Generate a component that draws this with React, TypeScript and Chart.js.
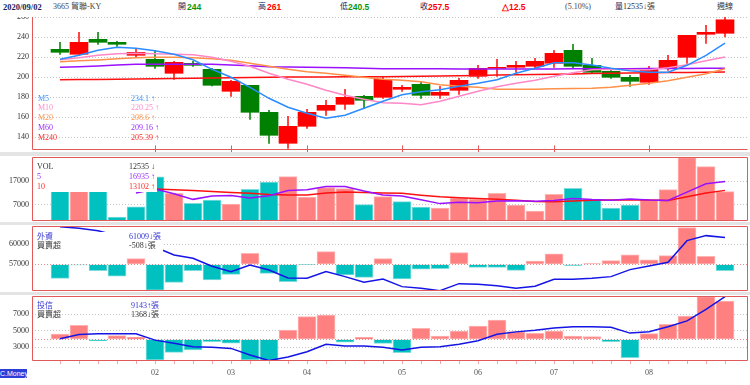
import React, { useEffect, useRef } from 'react';
import { Chart, registerables } from 'chart.js';
Chart.register(...registerables);

// ---------- data (weekly, 2019/12/30 .. 2020/08/31) ----------
const OPEN = [228, 223, 238, 235, 222, 218, 204, 214, 208, 186, 192, 165, 134, 151, 167, 173, 181, 180, 188, 193, 182, 187, 201, 209, 210, 211, 214, 227, 212, 206, 200, 195, 209, 220, 243, 244];
const CLOSE = [225, 235, 235, 233, 225, 211, 215, 212, 192, 196, 165, 142, 151, 165, 172, 180, 177, 198, 190, 182, 185, 197, 209, 210, 212, 216, 224, 211, 205, 200, 196, 209, 217, 242, 245, 257.5];
const HIGH = [235, 245, 245, 236, 228, 227, 216, 216, 209, 197, 192, 167, 161, 168, 177, 188, 182, 200, 192, 196, 191, 199, 212, 218, 216, 219, 227, 233, 219, 207, 202, 211, 222, 242, 252, 261];
const LOW = [223, 222, 233, 231, 220, 209, 198, 211, 191.5, 181, 158, 134, 129, 149, 162, 168, 169, 179, 186, 179, 179, 183, 199, 201, 205, 209, 210, 209, 204, 199, 191, 193, 207, 214, 234, 240.5];
const PREV_CLOSE = 245;

const M5 = [218, 222, 227, 230, 229, 226.6, 223, 217.5, 208, 200, 190, 179, 170, 164, 159, 162, 169, 176, 182.5, 185.5, 187.5, 191, 194, 197.5, 204, 209, 214.5, 214.5, 212.3, 209, 206.5, 205, 205, 212, 222, 234.1];
const M10 = [217.5, 219.5, 222, 223.5, 224, 223.5, 223, 222.5, 220, 216, 211, 204, 198, 193, 187, 182, 178, 174.5, 174, 172.5, 176, 181, 186, 190.5, 194, 197, 201, 204.5, 207.5, 208, 207.5, 207.5, 209.5, 212.5, 216.5, 220.25];
const M20 = [215.5, 216.5, 217.3, 218.5, 219.5, 220, 220, 219.5, 218.5, 217, 214, 211, 208, 205.5, 204, 202, 200, 198, 197, 195.5, 192.5, 191, 190, 188, 188, 188, 188.5, 188.7, 189, 190, 192, 194, 196.5, 200, 203.5, 208.6];
const M60 = [210, 210.5, 211.3, 212.2, 213, 213, 213, 213, 213, 212.3, 211.5, 210.6, 210.3, 210, 209.7, 209.5, 209, 208.6, 208.6, 208.5, 208.5, 208.4, 208.3, 208.3, 208.3, 208.3, 208.4, 208.5, 208.5, 208.6, 208.6, 208.7, 208.8, 208.9, 209, 209.16];
const M240 = [197.5, 197.7, 197.9, 198.1, 198.3, 198.6, 198.8, 199, 199.3, 199.5, 199.8, 200, 200.2, 200.3, 200.4, 200.5, 200.6, 200.6, 200.8, 201, 201.3, 201.6, 201.9, 202.2, 202.5, 202.8, 203.1, 203.4, 203.7, 204, 204.3, 204.5, 204.7, 204.9, 205.1, 205.39];

const VOLUME = [14500, 16000, 15000, 1520, 6000, 19040, 11820, 7470, 8900, 7170, 13560, 16740, 19050, 10220, 14270, 13840, 6880, 10360, 8190, 5870, 5430, 9780, 9350, 11810, 6740, 4130, 11380, 14000, 9350, 5430, 6740, 8910, 13400, 27300, 23400, 12535];
const VOL_UP = [0, 1, 0, 0, 0, 0, 1, 0, 0, 1, 0, 0, 1, 1, 1, 1, 0, 1, 0, 0, 1, 1, 1, 1, 1, 1, 1, 0, 0, 0, 0, 1, 1, 1, 1, 1];
const VOL_MA5 = [null, null, null, null, 12000, 13700, 11600, 9200, 10650, 10850, 9800, 10750, 13000, 13350, 14750, 14800, 12850, 11100, 10700, 9000, 7350, 7900, 7700, 8450, 8600, 8350, 8700, 9600, 9100, 8850, 9400, 8900, 8750, 12350, 15950, 16935];
const VOL_MA10 = [null, null, null, null, 13800, 13700, 13400, 13000, 12600, 12200, 11800, 11300, 11100, 11100, 12000, 12400, 12200, 12000, 11800, 11000, 10300, 9900, 9600, 9200, 8800, 8300, 8200, 8500, 8800, 8900, 8900, 8900, 8700, 10300, 12000, 13102];

const FOREIGN_HOLD = [62640, 62400, 62020, 61300, 60500, 59600, 58400, 57900, 56700, 55900, 56900, 56150, 54950, 54900, 55900, 55150, 54300, 54800, 53650, 53400, 53050, 54100, 54000, 53790, 53400, 53700, 54750, 54750, 54900, 55150, 56200, 56750, 57300, 60550, 61300, 61009];
const FOREIGN_NET = [-1120, -50, -510, -940, 450, -2060, -1440, -510, -1250, -800, 880, -720, -1390, -30, 1010, -850, -1040, 450, -1170, -380, -350, 930, -240, -240, -480, 260, 830, -80, 60, 300, 750, 350, 690, 2930, 640, -508];

const TRUST_HOLD = [4040, 4560, 4630, 4650, 4650, 3870, 3480, 3080, 3000, 2870, 2070, 1400, 1820, 2470, 3360, 3160, 3160, 3000, 2670, 3000, 3070, 3380, 3800, 4580, 4870, 5060, 5330, 5490, 5497, 5430, 4720, 4890, 5490, 6200, 7600, 9143];
const TRUST_NET = [190, 500, -50, 130, 80, -740, -465, -380, -85, -140, -740, -750, 330, 807, 868, -107, 71, -143, -478, 393, 118, 297, 476, 690, 272, 214, 297, 118, 95, -85, -655, 200, 535, 832, 1521, 1368];

const MONTH_LABELS = ['02', '03', '04', '05', '06', '07', '08'];
const MONTH_IDX = [5, 9, 13, 18, 22, 26, 31];

const MAIN_TICKS = [140, 160, 180, 200, 220, 240, 260];
const VOL_TICKS = [7000, 17000];
const FOREIGN_TICKS = [57000, 60000];
const TRUST_TICKS = [3000, 5000, 7000];

// ---------- styling ----------
const W = 750, H = 385;
const X_MIN = -1.474, X_MAX = 36.21;
const SERIF = "'Liberation Serif', 'Noto Sans CJK TC', serif";
const SANS = "'Liberation Sans', Arial, sans-serif";
const FRAME = '#e05a5a';
const RED_BAR = '#ff8080', RED_EDGE = '#ffb4b4';
const CYAN_BAR = '#00c0c0', CYAN_EDGE = '#7fdcdc';
const MA_COLORS = ['#2a8cff', '#ff88c8', '#ff9048', '#9a10ff', '#ff1010'];
const MA_TEXT = ['#3c96ff', '#ff8ccc', '#ff9650', '#9a30ff', '#ff2a2a'];
const HOLD_BLUE = '#1414e6';
const LEG_BLUE = '#3434d0';

const N = CLOSE.length;
const idx = Array.from({ length: N }, (_, i) => i);
const pts = (arr: (number | null)[]) => arr.map((v, i) => ({ x: i, y: v }));
const last = (a: any[]) => a[a.length - 1];
const arrow = (a: any[]) => (a[a.length - 1] >= a[a.length - 2] ? '\u2191' : '\u2193');

const framePlugin: any = {
  id: 'frame',
  afterDatasetsDraw(chart: any, _a: any, opts: any) {
    const { ctx, chartArea: a } = chart;
    ctx.save();
    ctx.strokeStyle = FRAME;
    ctx.lineWidth = 1;
    const L = Math.round(a.left) + 0.5, R = Math.round(a.right) - 0.5;
    const T = Math.round(a.top) + 0.5, B = Math.round(a.bottom) - 0.5;
    ctx.beginPath();
    if (opts.full) {
      ctx.rect(L, T, R - L, B - T);
    } else {
      ctx.moveTo(L, T);
      ctx.lineTo(L, B);
      ctx.lineTo(R, B);
    }
    ctx.stroke();
    if (opts.monthTicks) {
      const xs = chart.scales.x;
      ctx.beginPath();
      MONTH_IDX.forEach((i) => {
        const px = Math.round(xs.getPixelForValue(i)) + 0.5;
        ctx.moveTo(px, B - 4);
        ctx.lineTo(px, B + 2.5);
      });
      ctx.stroke();
    }
    ctx.restore();
  },
};

const yAxis = (min: number, max: number, ticks: number[]) => ({
  position: 'left',
  min,
  max,
  afterFit: (s: any) => { s.width = 32; },
  afterBuildTicks: (s: any) => { s.ticks = ticks.map((v) => ({ value: v })); },
  ticks: { font: { family: SERIF, size: 8 }, color: '#333', padding: 3, callback: (v: any) => String(v) },
  grid: { color: '#c4c4c4', drawTicks: false, lineWidth: 1 },
  border: { display: false, dash: [1, 2] },
});

const y2Axis = (min: number, max: number) => ({
  position: 'right',
  min,
  max,
  afterFit: (s: any) => { s.width = 0; },
  afterBuildTicks: (s: any) => { s.ticks = [{ value: 0 }]; },
  ticks: { display: false },
  grid: { color: '#e88a8a', drawTicks: false, lineWidth: 1 },
  border: { display: false, dash: [1, 2] },
});

const xHidden = { type: 'linear', min: X_MIN, max: X_MAX, offset: false, display: false };

const baseOpts = (pad: any, scales: any, frame: any) => ({
  responsive: false,
  animation: false,
  events: [],
  layout: { padding: pad },
  plugins: { legend: { display: false }, tooltip: { enabled: false }, frame },
  scales,
});

const line = (data: any[], color: string, width = 1.5, yAxisID = 'y') => ({
  type: 'line',
  data: pts(data),
  borderColor: color,
  borderWidth: width,
  pointRadius: 0,
  fill: false,
  tension: 0,
  yAxisID,
});

const netBars = (data: number[]) => ({
  type: 'bar',
  data: pts(data),
  yAxisID: 'y2',
  backgroundColor: data.map((v) => (v >= 0 ? RED_BAR : CYAN_BAR)),
  borderColor: data.map((v) => (v >= 0 ? RED_EDGE : CYAN_EDGE)),
  borderWidth: 1,
  barThickness: 18,
  grouped: false,
});

function mainConfig(): any {
  const up = idx.map((i) => CLOSE[i] >= OPEN[i]);
  return {
    type: 'bar',
    data: {
      datasets: [
        line(M5, MA_COLORS[0]),
        line(M10, MA_COLORS[1]),
        line(M20, MA_COLORS[2]),
        line(M60, MA_COLORS[3]),
        line(M240, MA_COLORS[4]),
        {
          type: 'bar',
          data: idx.map((i) => ({ x: i, y: [Math.min(OPEN[i], CLOSE[i]), Math.max(OPEN[i], CLOSE[i])] })),
          backgroundColor: up.map((u) => (u ? '#ff0000' : '#008000')),
          borderWidth: 0,
          barThickness: 18,
          grouped: false,
        },
        {
          type: 'bar',
          data: idx.map((i) => ({ x: i, y: [LOW[i], HIGH[i]] })),
          backgroundColor: up.map((u) => (u ? '#ff2020' : '#108a10')),
          borderWidth: 0,
          barThickness: 1,
          grouped: false,
        },
      ],
    },
    options: baseOpts({ left: 0, right: 2, top: 12, bottom: H - 150 }, { x: xHidden, y: yAxis(127.3, 265.3, MAIN_TICKS) }, { full: false, monthTicks: true }),
    plugins: [framePlugin],
  };
}

function volConfig(): any {
  return {
    type: 'bar',
    data: {
      datasets: [
        line(VOL_MA5, '#9a10ff'),
        line(VOL_MA10, '#ff1010'),
        {
          type: 'bar',
          data: pts(VOLUME),
          backgroundColor: VOL_UP.map((u) => (u ? RED_BAR : CYAN_BAR)),
          borderColor: VOL_UP.map((u) => (u ? RED_EDGE : CYAN_EDGE)),
          borderWidth: 1,
          barThickness: 18,
          grouped: false,
        },
      ],
    },
    options: baseOpts({ left: 0, right: 2, top: 157, bottom: H - 221 }, { x: xHidden, y: yAxis(-200, 27600, VOL_TICKS) }, { full: true }),
    plugins: [framePlugin],
  };
}

function foreignConfig(): any {
  return {
    type: 'bar',
    data: { datasets: [line(FOREIGN_HOLD, HOLD_BLUE), netBars(FOREIGN_NET)] },
    options: baseOpts(
      { left: 0, right: 2, top: 226, bottom: H - 291 },
      { x: xHidden, y: yAxis(52995, 62745, FOREIGN_TICKS), y2: y2Axis(-2136, 3064) },
      { full: true }
    ),
    plugins: [framePlugin],
  };
}

function trustConfig(): any {
  return {
    type: 'bar',
    data: { datasets: [line(TRUST_HOLD, HOLD_BLUE), netBars(TRUST_NET)] },
    options: baseOpts(
      { left: 0, right: 2, top: 296, bottom: 0 },
      {
        x: {
          type: 'linear',
          min: X_MIN,
          max: X_MAX,
          offset: false,
          position: 'bottom',
          afterFit: (s: any) => { s.height = 24; },
          afterBuildTicks: (s: any) => { s.ticks = idx.map((v) => ({ value: v })); },
          ticks: {
            autoSkip: false,
            maxRotation: 0,
            font: { family: SERIF, size: 8 },
            color: '#555',
            padding: 4,
            callback: (v: any) => {
              const k = MONTH_IDX.indexOf(v);
              return k >= 0 ? MONTH_LABELS[k] : '';
            },
          },
          grid: { offset: false, drawOnChartArea: false, drawTicks: true, tickLength: 3, tickColor: '#f0a8a8' },
          border: { display: false },
        },
        y: yAxis(1340, 9218, TRUST_TICKS),
        y2: y2Axis(-775, 1546),
      },
      { full: true }
    ),
    plugins: [framePlugin],
  };
}

const T = ({ x, y, c = '#333', s = 8, b = false, f = SERIF, children }: any) => (
  <div
    style={{
      position: 'absolute', left: x, top: y - 6, height: 12, lineHeight: '12px',
      fontSize: s, fontWeight: b ? 'bold' : 'normal', color: c, fontFamily: f, whiteSpace: 'nowrap',
    }}
  >
    {children}
  </div>
);

const Box = ({ x, y, w, h, bg = '#fff' }: any) => (
  <div style={{ position: 'absolute', left: x, top: y, width: w, height: h, background: bg }} />
);

export default function App() {
  const r1 = useRef<HTMLCanvasElement>(null);
  const r2 = useRef<HTMLCanvasElement>(null);
  const r3 = useRef<HTMLCanvasElement>(null);
  const r4 = useRef<HTMLCanvasElement>(null);

  useEffect(() => {
    const charts = [
      new Chart(r1.current as any, mainConfig()),
      new Chart(r2.current as any, volConfig()),
      new Chart(r3.current as any, foreignConfig()),
      new Chart(r4.current as any, trustConfig()),
    ];
    return () => charts.forEach((c) => c.destroy());
  }, []);

  const cv: any = { position: 'absolute', left: 0, top: 0, width: W, height: H };
  const change = +(last(CLOSE) - PREV_CLOSE).toFixed(2);
  const pct = ((change / PREV_CLOSE) * 100).toFixed(2);
  const maArrays = [M5, M10, M20, M60, M240];
  const maNames = ['M5', 'M10', 'M20', 'M60', 'M240'];
  const NAVY = '#1c1c5a';

  return (
    <div style={{ position: 'absolute', left: 0, top: 0, width: W, height: H, background: '#fff', overflow: 'hidden' }}>
      <Box x={0} y={152} w={W} h={4} bg="#e4e4e4" />
      <Box x={0} y={222} w={W} h={3} bg="#e4e4e4" />
      <Box x={0} y={292} w={W} h={3} bg="#e4e4e4" />
      <canvas ref={r1} width={W} height={H} style={cv} />
      <canvas ref={r2} width={W} height={H} style={cv} />
      <canvas ref={r3} width={W} height={H} style={cv} />
      <canvas ref={r4} width={W} height={H} style={cv} />

      {/* header */}
      <Box x={0} y={0} w={W} h={17} />
      <T x={3} y={7} c={NAVY} b s={8.5}>2020/09/02</T>
      <T x={53} y={7} c="#444">3665 貿聯-KY</T>
      <T x={178} y={7} c={NAVY}>開</T>
      <T x={187} y={7} c="#0a960a" b s={8.5} f={SANS}>{last(OPEN)}</T>
      <T x={258} y={7} c={NAVY}>高</T>
      <T x={267} y={7} c="#ff0000" b s={8.5} f={SANS}>{last(HIGH)}</T>
      <T x={340} y={7} c={NAVY}>低</T>
      <T x={348} y={7} c="#0a960a" b s={8.5} f={SANS}>{last(LOW)}</T>
      <T x={420} y={7} c={NAVY}>收</T>
      <T x={428} y={7} c="#ff0000" b s={8.5} f={SANS}>{last(CLOSE)}</T>
      <T x={502} y={7} c="#ff0000" b s={8.5} f={SANS}>{'\u25B3' + change}</T>
      <T x={565} y={7} c="#444">({pct}%)</T>
      <T x={615} y={7} c={NAVY}>量</T>
      <T x={623} y={7} c="#333">{last(VOLUME)}{'\u2193'}張</T>
      <T x={717} y={7} c="#333">週線</T>

      {/* main legend */}
      {maNames.map((n, k) => (
        <React.Fragment key={n}>
          <T x={38} y={98.5 + k * 9.8} c={MA_TEXT[k]}>{n}</T>
          <T x={131} y={98.5 + k * 9.8} c={MA_TEXT[k]}>{last(maArrays[k])} {arrow(maArrays[k])}</T>
        </React.Fragment>
      ))}

      {/* volume legend */}
      <Box x={33} y={157.5} w={124} h={34.8} />
      <T x={37} y={166.7} c="#333">VOL</T>
      <T x={37} y={176.7} c="#9a30ff">5</T>
      <T x={37} y={186.7} c="#ff2a2a">10</T>
      <T x={129} y={166.7} c="#333">{last(VOLUME)} {arrow(VOLUME)}</T>
      <T x={129} y={176.7} c="#9a30ff">{last(VOL_MA5)} {arrow(VOL_MA5)}</T>
      <T x={129} y={186.7} c="#ff2a2a">{last(VOL_MA10)} {arrow(VOL_MA10)}</T>

      {/* foreign legend */}
      <Box x={33} y={232} w={130} h={21} />
      <T x={37} y={236.7} c={LEG_BLUE}>外資</T>
      <T x={37} y={245.8} c="#333">買賣超</T>
      <T x={129} y={236.7} c={LEG_BLUE}>{last(FOREIGN_HOLD)}{arrow(FOREIGN_HOLD)}張</T>
      <T x={129} y={245.8} c="#333">{last(FOREIGN_NET)}{arrow(FOREIGN_NET)}張</T>

      {/* trust legend */}
      <T x={37} y={305.8} c={LEG_BLUE}>投信</T>
      <T x={37} y={315.3} c="#333">買賣超</T>
      <T x={131} y={305.8} c={LEG_BLUE}>{last(TRUST_HOLD)}{arrow(TRUST_HOLD)}張</T>
      <T x={131} y={315.3} c="#333">{last(TRUST_NET)}{arrow(TRUST_NET)}張</T>

      {/* brand */}
      <div style={{ position: 'absolute', left: 0, top: 369, width: 27, height: 9, background: '#2b3fd6', color: '#fff', fontFamily: SANS, fontSize: 7, lineHeight: '9px', textAlign: 'center', whiteSpace: 'nowrap', overflow: 'hidden' }}>C.Money</div>
    </div>
  );
}
